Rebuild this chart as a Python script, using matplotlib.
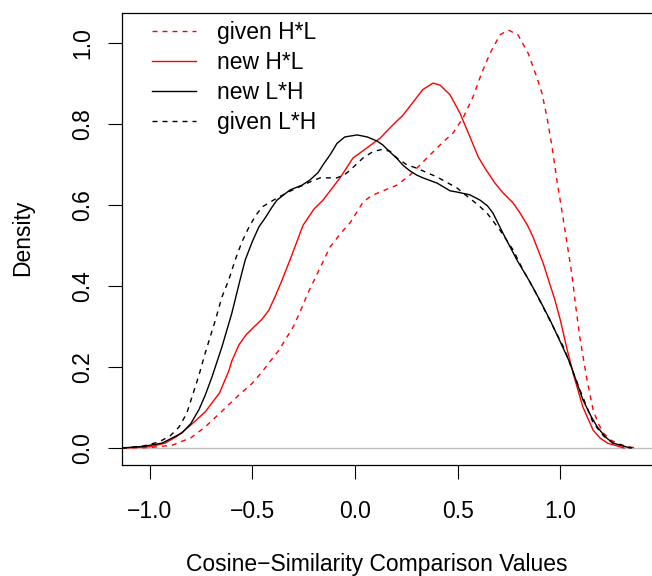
import matplotlib
matplotlib.use("Agg")
import matplotlib.pyplot as plt

plt.rcParams['font.family'] = ['Liberation Sans', 'DejaVu Sans']

# given H*L (red dashed)
ghl_x = [-1.135, -1.0, -0.89, -0.80, -0.73, -0.65, -0.565, -0.50, -0.453, -0.37, -0.30, -0.268, -0.229,
         -0.17, -0.122, -0.07, -0.024, 0.039, 0.08, 0.122, 0.204, 0.268, 0.35, 0.428, 0.478, 0.526,
         0.575, 0.617, 0.658, 0.706, 0.747, 0.794, 0.843, 0.885, 0.91, 0.935, 0.96, 0.974, 0.983,
         1.015, 1.056, 1.075, 1.096, 1.13, 1.16, 1.185, 1.21, 1.245, 1.276, 1.32, 1.37]
ghl_y = [0.0, 0.001, 0.007, 0.025, 0.052, 0.09, 0.131, 0.16, 0.188, 0.242, 0.30, 0.336, 0.383,
         0.445, 0.496, 0.53, 0.556, 0.607, 0.623, 0.632, 0.649, 0.674, 0.716, 0.755, 0.778, 0.815,
         0.867, 0.926, 0.975, 1.02, 1.032, 1.02, 0.975, 0.916, 0.877, 0.817, 0.743, 0.694, 0.662,
         0.563, 0.43, 0.35, 0.27, 0.168, 0.094, 0.06, 0.037, 0.02, 0.012, 0.004, 0.0]

# new H*L (red solid)
nhl_x = [-1.135, -1.0, -0.925, -0.87, -0.81, -0.73, -0.66, -0.615, -0.60, -0.565, -0.53, -0.49, -0.453,
         -0.42, -0.39, -0.355, -0.317, -0.253, -0.20, -0.156, -0.073, -0.01, 0.058, 0.122, 0.185,
         0.234, 0.283, 0.33, 0.38, 0.414, 0.463, 0.511, 0.56, 0.60, 0.633, 0.68, 0.721, 0.77, 0.804,
         0.84, 0.867, 0.916, 0.974, 1.0, 1.03, 1.062, 1.11, 1.16, 1.195, 1.23, 1.31]
nhl_y = [0.0, 0.003, 0.012, 0.028, 0.052, 0.089, 0.136, 0.19, 0.215, 0.255, 0.28, 0.30, 0.318,
         0.34, 0.373, 0.415, 0.464, 0.55, 0.59, 0.612, 0.667, 0.716, 0.741, 0.765, 0.798,
         0.822, 0.854, 0.885, 0.901, 0.896, 0.872, 0.827, 0.768, 0.719, 0.691, 0.655, 0.63, 0.605, 0.58,
         0.55, 0.521, 0.457, 0.365, 0.316, 0.25, 0.185, 0.101, 0.044, 0.024, 0.012, 0.0]

# new L*H (black solid)
nlh_x = [-1.135, -1.03, -0.94, -0.843, -0.80, -0.76, -0.73, -0.697, -0.648, -0.60, -0.56, -0.535, -0.50,
         -0.468, -0.435, -0.404, -0.38, -0.34, -0.317, -0.258, -0.219, -0.18, -0.156, -0.12, -0.088,
         -0.05, 0.01, 0.06, 0.107, 0.136, 0.17, 0.204, 0.234, 0.268, 0.30, 0.331, 0.40, 0.463, 0.497,
         0.56, 0.609, 0.645, 0.672, 0.72, 0.789, 0.852, 0.90, 0.95, 1.0, 1.047, 1.11, 1.15, 1.18,
         1.22, 1.257, 1.34]
nlh_y = [0.0, 0.004, 0.012, 0.037, 0.06, 0.095, 0.13, 0.175, 0.25, 0.333, 0.415, 0.464, 0.51,
         0.546, 0.57, 0.595, 0.612, 0.628, 0.637, 0.649, 0.662, 0.68, 0.699, 0.725, 0.752,
         0.768, 0.773, 0.768, 0.758, 0.748, 0.731, 0.715, 0.698, 0.684, 0.674, 0.667, 0.654, 0.635, 0.632,
         0.625, 0.612, 0.598, 0.58, 0.531, 0.464, 0.41, 0.365, 0.316, 0.262, 0.21, 0.119, 0.078, 0.052,
         0.027, 0.012, 0.0]

# given L*H (black dashed)
glh_x = [-1.135, -1.03, -0.955, -0.90, -0.857, -0.82, -0.794, -0.76, -0.73, -0.68, -0.648, -0.615, -0.584,
         -0.55, -0.516, -0.485, -0.453, -0.414, -0.37, -0.317, -0.253, -0.219, -0.17, -0.088, -0.05,
         -0.024, 0.039, 0.088, 0.13, 0.17, 0.204, 0.25, 0.30, 0.40, 0.497, 0.545, 0.60, 0.643, 0.706,
         0.77, 0.818, 0.87, 0.916, 1.015, 1.096, 1.16, 1.21, 1.257, 1.35]
glh_y = [0.0, 0.005, 0.015, 0.03, 0.052, 0.085, 0.126, 0.18, 0.234, 0.316, 0.373, 0.415, 0.464,
         0.51, 0.546, 0.573, 0.595, 0.607, 0.62, 0.634, 0.649, 0.657, 0.667, 0.667, 0.675,
         0.686, 0.716, 0.732, 0.737, 0.733, 0.716, 0.70, 0.691, 0.669, 0.642, 0.622, 0.60, 0.58, 0.538,
         0.489, 0.44, 0.393, 0.348, 0.25, 0.143, 0.062, 0.03, 0.012, 0.0]

x_ticks = [-1.0, -0.5, 0.0, 0.5, 1.0]
x_tick_labels = ["\u22121.0", "\u22120.5", "0.0", "0.5", "1.0"]
y_ticks = [0.0, 0.2, 0.4, 0.6, 0.8, 1.0]
y_tick_labels = ["0.0", "0.2", "0.4", "0.6", "0.8", "1.0"]

W, H = 652, 576
fig = plt.figure(figsize=(W / 100, H / 100), dpi=100)

x0, x1 = -1.135, 1.5
px_per_unit = 205.3
left_px = 122
right_px = left_px + (x1 - x0) * px_per_unit
top_px, bot_px = 13, 465
ax = fig.add_axes([left_px / W, 1 - bot_px / H, (right_px - left_px) / W, (bot_px - top_px) / H])
ax.set_xlim(x0, x1)
ax.set_ylim((448 - bot_px) / 405.0, (448 - top_px) / 405.0)

FS = 16.5
lw = 1.0
dash = (0, (3.6, 3.6))
ax.axhline(0, color='#BEBEBE', lw=1.0, zorder=1)
ax.plot(ghl_x, ghl_y, color='#FF0000', lw=lw, linestyle=dash, label='given H*L')
ax.plot(nhl_x, nhl_y, color='#FF0000', lw=lw, label='new H*L')
ax.plot(nlh_x, nlh_y, color='black', lw=lw, label='new L*H')
ax.plot(glh_x, glh_y, color='black', lw=lw, linestyle=dash, label='given L*H')

ax.set_xticks(x_ticks)
ax.set_xticklabels(x_tick_labels)
ax.set_yticks(y_ticks)
ax.set_yticklabels(y_tick_labels, rotation=90, va='center')
ax.tick_params(axis='both', length=10, width=0.8, labelsize=FS, direction='out')
ax.tick_params(axis='x', pad=15)
ax.tick_params(axis='y', pad=10)
for s in ax.spines.values():
    s.set_linewidth(0.9)

ax.set_xlabel("Cosine\u2212Similarity Comparison Values", fontsize=FS)
ax.xaxis.set_label_coords((377 - left_px) / (right_px - left_px), (bot_px - 565) / (bot_px - top_px))
ax.xaxis.label.set_va('center')
ax.set_ylabel("Density", fontsize=FS)
ax.yaxis.set_label_coords((23 - left_px) / (right_px - left_px), (bot_px - 238) / (bot_px - top_px))
ax.yaxis.label.set_va('center')

leg = ax.legend(loc='upper left', bbox_to_anchor=(152 / W, 1 - 21 / H), bbox_transform=fig.transFigure,
                frameon=False, fontsize=FS, handlelength=1.92, handletextpad=0.92,
                labelspacing=0.31, borderpad=0, borderaxespad=0)

fig.savefig("out.png", dpi=100)
